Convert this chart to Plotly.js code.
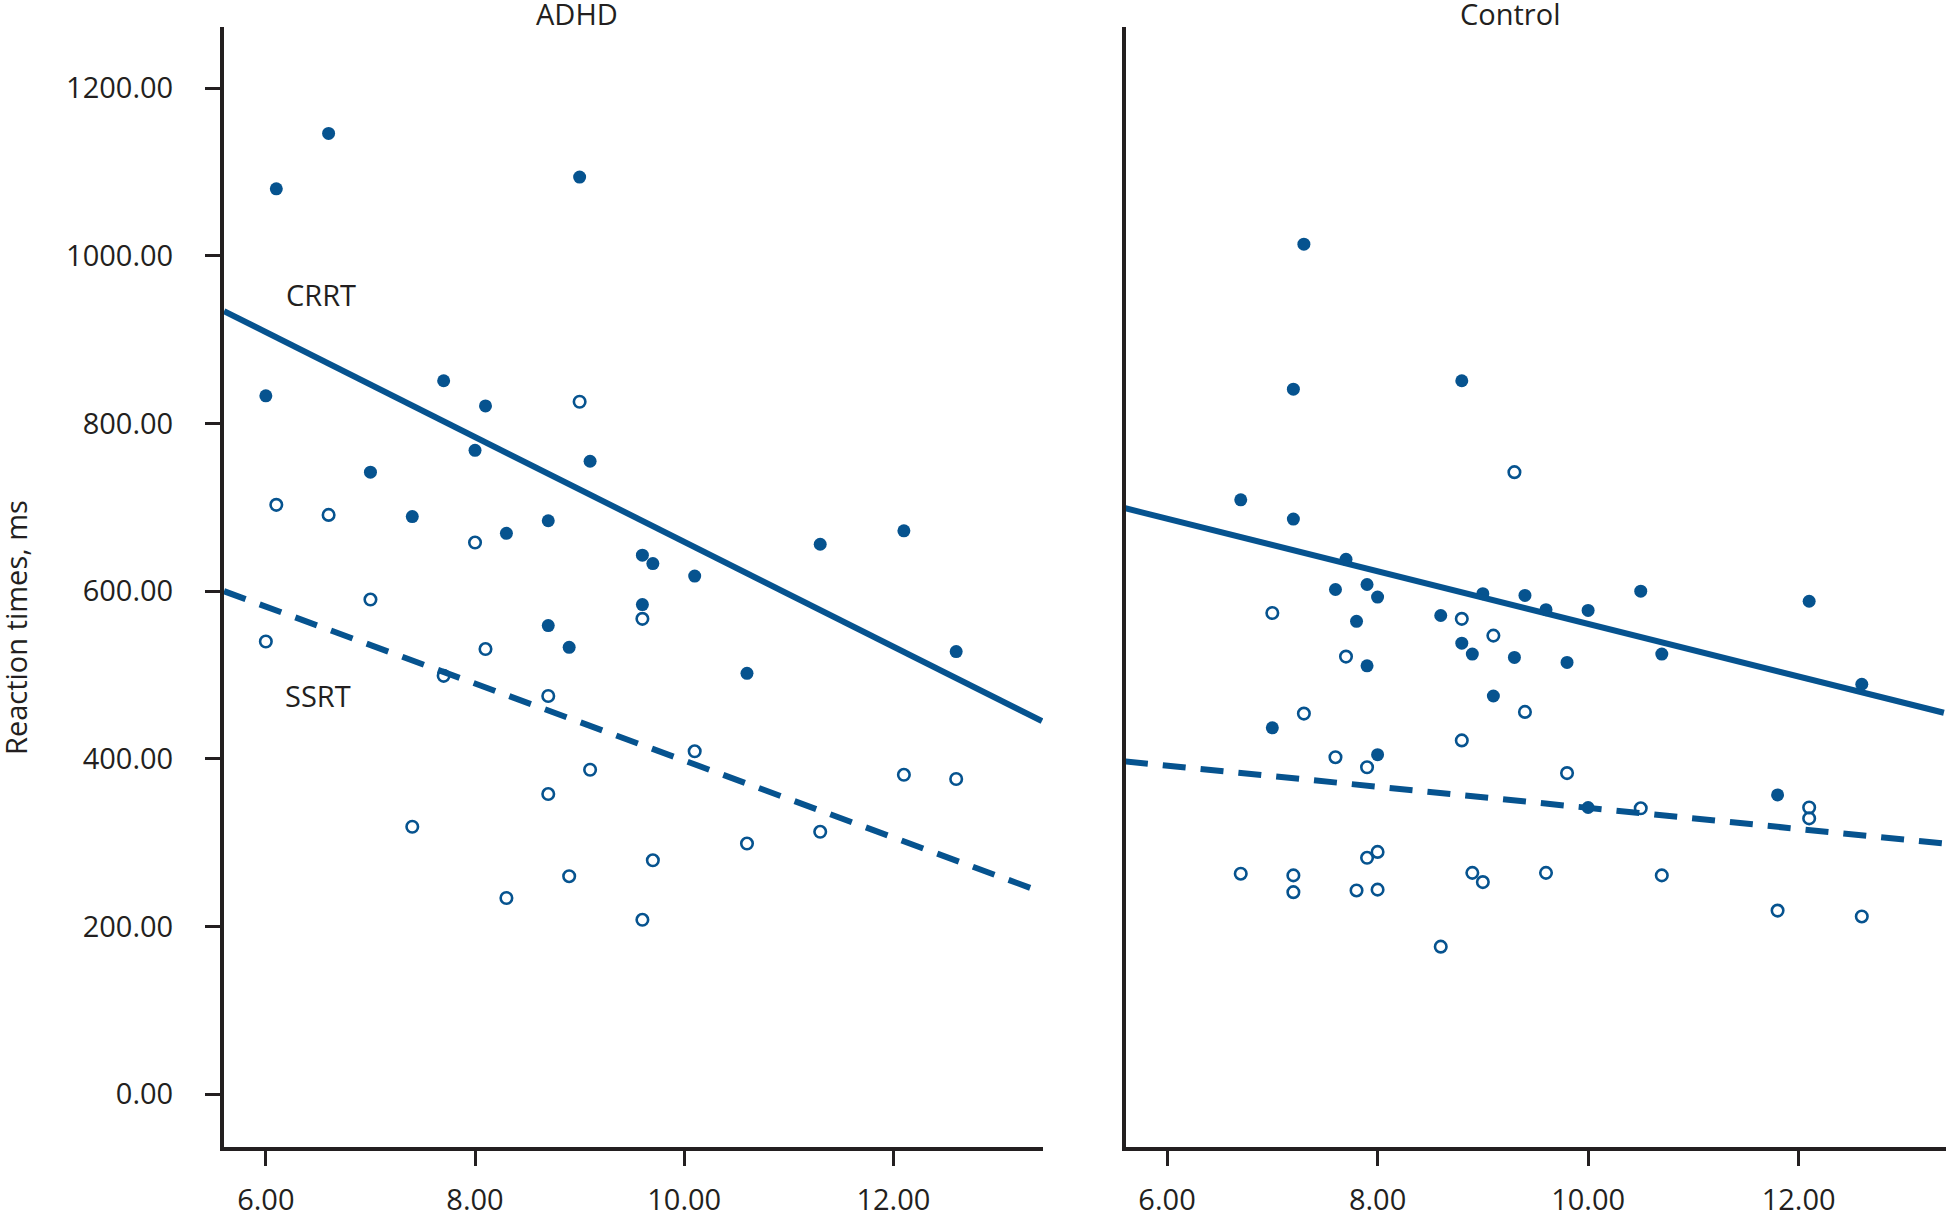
<!DOCTYPE html>
<html>
<head>
<meta charset="utf-8">
<script src="https://cdn.plot.ly/plotly-3.0.1.min.js"></script>
<style>html,body{margin:0;padding:0;background:#fff;}#chart{width:1947px;height:1210px;}</style>
</head>
<body>
<div id="chart"></div>
<script>
// ---- Data ----
// ADHD group: age (years) and choice reaction time (CRRT, filled) / stop-signal reaction time (SSRT, open)
const adhdCrrtAge = [6.1, 6.6, 9.0, 6.0, 7.7, 8.1, 8.0, 9.1, 7.0, 7.4, 8.3, 8.7, 9.6, 9.7, 10.1, 11.3, 12.1, 8.7, 9.6, 8.9, 10.6, 12.6];
const adhdCrrt    = [1080, 1146, 1094, 833, 851, 821, 768, 755, 742, 689, 669, 684, 643, 633, 618, 656, 672, 559, 584, 533, 502, 528];
const adhdSsrtAge = [6.1, 6.6, 9.0, 8.0, 7.0, 6.0, 8.1, 9.6, 7.7, 8.7, 10.1, 9.1, 8.7, 7.4, 12.1, 12.6, 11.3, 10.6, 9.7, 8.9, 8.3, 9.6];
const adhdSsrt    = [703, 691, 826, 658, 590, 540, 531, 567, 499, 475, 409, 387, 358, 319, 381, 376, 313, 299, 279, 260, 234, 208];

// Control group
const ctrlCrrtAge = [7.3, 7.2, 8.8, 6.7, 7.2, 7.7, 7.6, 7.9, 8.0, 7.8, 8.6, 9.0, 9.4, 9.6, 10.0, 10.5, 12.1, 8.8, 8.9, 9.3, 7.9, 9.8, 10.7, 12.6, 9.1, 7.0, 8.0, 11.8, 10.0];
const ctrlCrrt    = [1014, 841, 851, 709, 686, 638, 602, 608, 593, 564, 571, 597, 595, 578, 577, 600, 588, 538, 525, 521, 511, 515, 525, 489, 475, 437, 405, 357, 342];
const ctrlSsrtAge = [9.3, 7.0, 8.8, 9.1, 7.7, 7.3, 9.4, 8.8, 7.6, 7.9, 9.8, 10.5, 12.1, 12.1, 8.0, 7.9, 6.7, 7.2, 7.2, 7.8, 8.0, 8.9, 9.0, 9.6, 10.7, 11.8, 12.6, 8.6];
const ctrlSsrt    = [742, 574, 567, 547, 522, 454, 456, 422, 402, 390, 383, 341, 342, 329, 289, 282, 263, 261, 241, 243, 244, 264, 253, 264, 261, 219, 212, 176];

// Fitted regression lines (values at the ends of the age axis)
const fitAge         = [5.6, 13.42];
const adhdCrrtFit    = [934, 445];
const adhdSsrtFit    = [600, 241];
const ctrlFitAge     = [5.6, 13.38];
const ctrlCrrtFit    = [699, 455];
const ctrlSsrtFit    = [397, 299];

const yTickVals = [0, 200, 400, 600, 800, 1000, 1200];
const xTickVals = [6, 8, 10, 12];
const panelTitles = ['ADHD', 'Control'];
const lineLabels = ['CRRT', 'SSRT'];
const yTitle = 'Reaction times, ms';

// ---- Styling ----
const BLUE = '#06538f';
const INK = '#231f20';
const FONT = 'Open Sans, Noto Sans, sans-serif';
const FS = 29;

function filled(x, y, xa, ya) {
  return {x: x, y: y, xaxis: xa, yaxis: ya, type: 'scatter', mode: 'markers',
    marker: {symbol: 'circle', size: 13, color: BLUE, line: {width: 0}}, showlegend: false, hoverinfo: 'skip'};
}
function open(x, y, xa, ya) {
  return {x: x, y: y, xaxis: xa, yaxis: ya, type: 'scatter', mode: 'markers',
    marker: {symbol: 'circle-open', size: 11.5, color: BLUE, line: {width: 2.6, color: BLUE}}, showlegend: false, hoverinfo: 'skip'};
}
function fit(x, y, xa, ya, dash) {
  return {x: x, y: y, xaxis: xa, yaxis: ya, type: 'scatter', mode: 'lines',
    line: {color: BLUE, width: 6, dash: dash}, showlegend: false, hoverinfo: 'skip'};
}

const data = [
  filled(adhdCrrtAge, adhdCrrt, 'x', 'y'),
  open(adhdSsrtAge, adhdSsrt, 'x', 'y'),
  fit(fitAge, adhdCrrtFit, 'x', 'y', 'solid'),
  fit(fitAge, adhdSsrtFit, 'x', 'y', '23px,15px'),
  filled(ctrlCrrtAge, ctrlCrrt, 'x2', 'y2'),
  open(ctrlSsrtAge, ctrlSsrt, 'x2', 'y2'),
  fit(ctrlFitAge, ctrlCrrtFit, 'x2', 'y2', 'solid'),
  fit(ctrlFitAge, ctrlSsrtFit, 'x2', 'y2', '23px,15px')
];

const W = 1947, H = 1210;
const xAxisCommon = {
  tickvals: xTickVals, tickformat: '.2f', ticks: 'outside', ticklen: 15, tickwidth: 3, tickcolor: INK,
  showline: true, linecolor: INK, linewidth: 4, showgrid: false, zeroline: false,
  tickfont: {family: FONT, size: FS, color: INK}, ticklabelstandoff: 9, fixedrange: true
};
const yRange = [-63, 1273];

const layout = {
  width: W, height: H,
  margin: {l: 0, r: 0, t: 0, b: 0, pad: 0},
  paper_bgcolor: '#ffffff', plot_bgcolor: '#ffffff',
  font: {family: FONT, size: FS, color: INK},
  xaxis: Object.assign({}, xAxisCommon, {domain: [224 / W, 1043 / W], range: [5.60, 13.43], anchor: 'y'}),
  xaxis2: Object.assign({}, xAxisCommon, {domain: [1126 / W, 1946 / W], range: [5.61, 13.40], anchor: 'y2'}),
  yaxis: {
    domain: [(H - 1147) / H, (H - 27) / H], range: yRange, anchor: 'x',
    tickvals: yTickVals, tickformat: '.2f', ticks: 'outside', ticklen: 15, tickwidth: 3, tickcolor: INK,
    showline: true, linecolor: INK, linewidth: 4, showgrid: false, zeroline: false,
    tickfont: {family: FONT, size: FS, color: INK}, ticklabelstandoff: 26, fixedrange: true
  },
  yaxis2: {
    domain: [(H - 1147) / H, (H - 27) / H], range: yRange, anchor: 'x2',
    showticklabels: false, ticks: '', showline: true, linecolor: INK, linewidth: 4,
    showgrid: false, zeroline: false, fixedrange: true
  },
  annotations: [
    {text: panelTitles[0], xref: 'paper', yref: 'paper', x: 577 / W, y: (H - 14) / H, xanchor: 'center', yanchor: 'middle', showarrow: false, font: {family: FONT, size: FS, color: INK}},
    {text: panelTitles[1], xref: 'paper', yref: 'paper', x: 1510 / W, y: (H - 14) / H, xanchor: 'center', yanchor: 'middle', showarrow: false, font: {family: FONT, size: FS, color: INK}},
    {text: lineLabels[0], xref: 'x', yref: 'y', x: 6.17, y: 954, xanchor: 'left', yanchor: 'middle', showarrow: false, font: {family: FONT, size: FS, color: INK}},
    {text: lineLabels[1], xref: 'x', yref: 'y', x: 6.16, y: 475, xanchor: 'left', yanchor: 'middle', showarrow: false, font: {family: FONT, size: FS, color: INK}},
    {text: yTitle, xref: 'paper', yref: 'paper', x: 15 / W, y: (H - 628) / H, xanchor: 'center', yanchor: 'middle', textangle: -90, showarrow: false, font: {family: FONT, size: FS, color: INK}}
  ]
};

Plotly.newPlot('chart', data, layout, {staticPlot: true, displayModeBar: false});
</script>
</body>
</html>
